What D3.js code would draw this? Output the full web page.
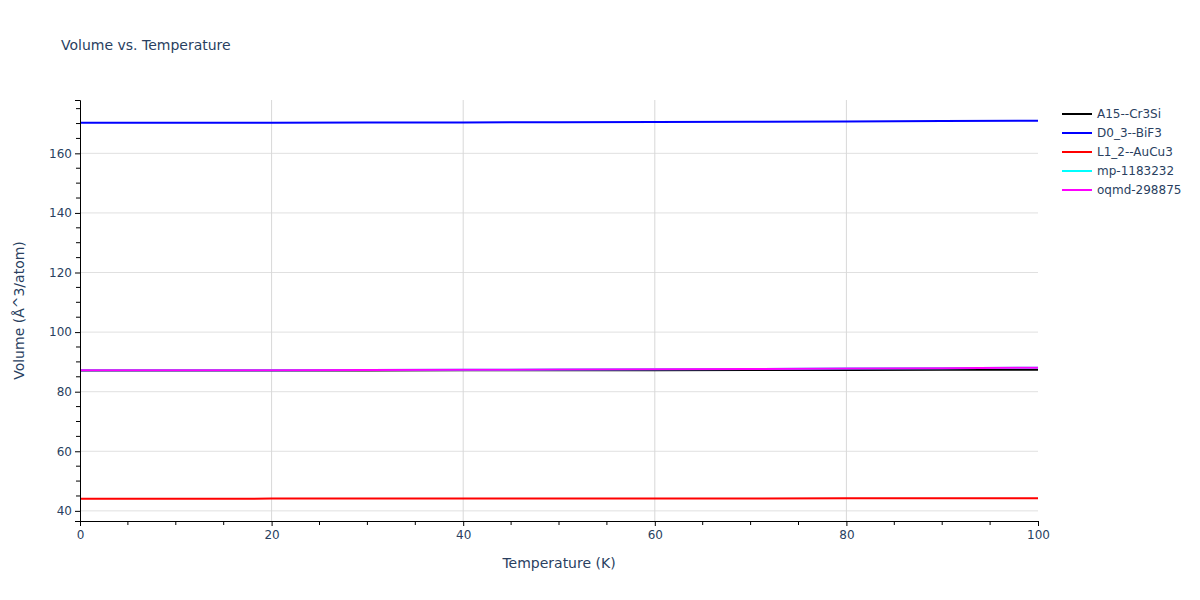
<!DOCTYPE html>
<html><head><meta charset="utf-8">
<script src="https://cdn.jsdelivr.net/npm/d3@7"></script>
<style>body{margin:0;background:#fff;font-family:"DejaVu Sans",Verdana,sans-serif;}</style>
</head><body><svg id="c" width="1200" height="600"></svg>
<script>
const temps = [0, 10, 20, 30, 40, 50, 60, 70, 80, 90, 100];
const seriesNames = ["A15--Cr3Si", "D0_3--BiF3", "L1_2--AuCu3", "mp-1183232", "oqmd-298875"];
const seriesColors = ["#000000", "#0000ff", "#ff0000", "#00ffff", "#ff00ff"];
const a15 = [87.10, 87.11, 87.12, 87.14, 87.17, 87.20, 87.23, 87.27, 87.31, 87.35, 87.39];
const d03 = [170.25, 170.26, 170.28, 170.32, 170.38, 170.45, 170.53, 170.62, 170.72, 170.83, 170.94];
const l12 = [44.10, 44.10, 44.11, 44.12, 44.13, 44.15, 44.17, 44.19, 44.21, 44.23, 44.25];
const mp1183232 = [87.17, 87.18, 87.21, 87.26, 87.33, 87.42, 87.52, 87.63, 87.76, 87.90, 88.03];
const oqmd298875 = [87.17, 87.18, 87.21, 87.26, 87.33, 87.42, 87.52, 87.63, 87.76, 87.90, 88.04];
const xTicks = [0, 20, 40, 60, 80, 100];
const yTicks = [40, 60, 80, 100, 120, 140, 160];
const allSeries = [a15, d03, l12, mp1183232, oqmd298875];

const FONT = "'DejaVu Sans',Verdana,sans-serif";
const svg = d3.select("#c").style("font-family", FONT);
const L = 80, R = 1038, T = 100, B = 521;
const x = d3.scaleLinear().domain([0, 100]).range([L, R]);
const y = d3.scaleLinear().domain([36.6, 177.9]).range([B, T]);
const textColor = "#2a3f5f";

// grid
svg.append("g").selectAll("line").data(yTicks).join("line")
  .attr("x1", L).attr("x2", R).attr("y1", d => y(d)).attr("y2", d => y(d))
  .attr("stroke", "#e0e0e0").attr("stroke-width", 1);
svg.append("g").selectAll("line").data(xTicks.filter(d => d > 0 && d < 100)).join("line")
  .attr("y1", T).attr("y2", B).attr("x1", d => x(d)).attr("x2", d => x(d))
  .attr("stroke", "#d8d8d8").attr("stroke-width", 1);

// lines
const line = d3.line().x((d, i) => x(temps[i])).y(d => y(d));
allSeries.forEach((s, i) => {
  svg.append("path").datum(s).attr("d", line).attr("fill", "none")
    .attr("stroke", seriesColors[i]).attr("stroke-width", 2);
});

// axes
const xAxis = d3.axisBottom(x).tickValues(xTicks).tickSize(5).tickPadding(4);
const gx = svg.append("g").attr("transform", `translate(0,${B})`).call(xAxis);
gx.append("g").selectAll("line").data(d3.range(0, 101, 5).filter(d => d % 20)).join("line")
  .attr("x1", d => x(d)).attr("x2", d => x(d)).attr("y1", 0).attr("y2", 4).attr("stroke", "#000");
const yAxis = d3.axisLeft(y).tickValues(yTicks).tickSize(5).tickPadding(3);
const gy = svg.append("g").attr("transform", `translate(${L},0)`).call(yAxis);
gy.append("g").selectAll("line").data(d3.range(40, 176, 5).filter(d => d % 20)).join("line")
  .attr("y1", d => y(d)).attr("y2", d => y(d)).attr("x1", 0).attr("x2", -4).attr("stroke", "#000");
[gx, gy].forEach(g => {
  g.select(".domain").attr("stroke", "#000").attr("stroke-width", 1);
  g.selectAll(".tick line").attr("stroke", "#000");
  g.selectAll("text").attr("fill", textColor).style("font-size", "12px").style("font-family", FONT);
});

// titles
svg.append("text").attr("x", 61).attr("y", 50).text("Volume vs. Temperature")
  .attr("fill", textColor).style("font-size", "14px");
svg.append("text").attr("x", 559).attr("y", 568).attr("text-anchor", "middle")
  .text("Temperature (K)").attr("fill", textColor).style("font-size", "14px");
svg.append("text").attr("transform", `translate(24,${(T + B) / 2}) rotate(-90)`).attr("text-anchor", "middle")
  .text("Volume (Å^3/atom)").attr("fill", textColor).style("font-size", "14px");

// legend
const lg = svg.append("g").attr("transform", "translate(1062,114)");
seriesNames.forEach((n, i) => {
  const g = lg.append("g").attr("transform", `translate(0,${i * 19})`);
  g.append("line").attr("x1", 0).attr("x2", 30).attr("y1", 0).attr("y2", 0)
    .attr("stroke", seriesColors[i]).attr("stroke-width", 2);
  g.append("text").attr("x", 35).attr("y", 4).text(n).attr("fill", textColor).style("font-size", "12px");
});
</script></body></html>
